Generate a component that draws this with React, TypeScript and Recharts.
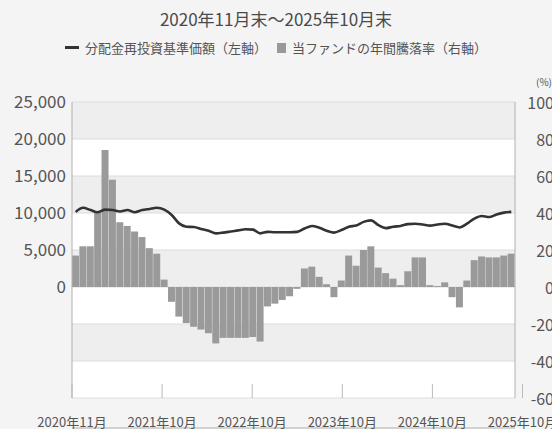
import { ComposedChart, Bar, Line, XAxis, YAxis, CartesianGrid } from "recharts"

const FONT = "'Noto Sans CJK JP', 'Noto Sans', sans-serif"

// month labels, Nov 2020 .. Oct 2025
const months: string[] = []
for (let i = 0; i < 60; i++) {
  const m = ((10 + i) % 12) + 1
  const y = 2020 + Math.floor((10 + i) / 12)
  months.push(`${y}年${m}月`)
}

// 分配金再投資基準価額 (left axis, yen)
const navValues = [
  10150, 10700, 10400, 10100, 10450, 10400, 10200, 10400, 10100, 10400,
  10550, 10700, 10450, 9730, 8600, 8150, 8100, 7850, 7600, 7250,
  7350, 7500, 7650, 7800, 7750, 7250, 7450, 7400, 7400, 7400,
  7450, 7900, 8250, 8000, 7600, 7350, 7700, 8150, 8300, 8800,
  9000, 8350, 7950, 8150, 8250, 8500, 8550, 8450, 8300, 8450,
  8550, 8300, 8050, 8550, 9250, 9600, 9450, 9800, 10050, 10150,
]

// 年間騰落率 (right axis, %)
const returnValues = [
  17, 22, 22, 41, 74, 58, 35, 33, 30, 27,
  21, 18, 4, -8, -16, -19.5, -21.5, -23, -25, -30.5,
  -27.5, -27.5, -27.5, -27.5, -27, -29.5, -10.5, -9, -7, -5,
  -1, 10, 11, 5.5, 1.5, -5.5, 3.5, 17, 11.5, 20,
  22, 10.5, 7.5, 4.5, 1, 8.5, 16, 16, 1, 0.5,
  2.5, -5.5, -11, 3.5, 14.5, 16.5, 16, 16, 17, 18,
]

const xTickPositions = [0, 12, 24, 36, 48, 60]
const xTickLabels = ["2020年11月", "2021年10月", "2022年10月", "2023年10月", "2024年10月", "2025年10月"]
const leftTicks = [0, 5000, 10000, 15000, 20000, 25000]
const rightTicks = [-60, -40, -20, 0, 20, 40, 60, 80, 100]

const data = months.map((month, i) => ({ month, nav: navValues[i], ret: returnValues[i] }))

const PLOT_BOTTOM = 398

const XTick = ({ x, payload }: any) => {
  const idx = xTickPositions.indexOf(payload.value)
  return (
    <g>
      <line x1={x} x2={x} y1={PLOT_BOTTOM} y2={PLOT_BOTTOM - 14} stroke="#bbb" />
      <text x={x} y={421} textAnchor="middle" dominantBaseline="central" fontSize={13} fill="#555" fontFamily={FONT}>
        {xTickLabels[idx]}
      </text>
    </g>
  )
}

const RightTick = ({ y, payload }: any) => (
  <text x={554} y={y} textAnchor="end" dominantBaseline="central" fontSize={16} fill="#555" fontFamily={FONT}>
    {payload.value}
  </text>
)

export default function App() {
  return (
    <div style={{ position: "absolute", left: 0, top: 0, width: 552, height: 429, background: "#f4f4f4", fontFamily: FONT, overflow: "hidden" }}>
      <div style={{ position: "absolute", top: 6, width: 552, textAlign: "center", fontSize: 17, color: "#4a4a4a" }}>
        2020年11月末～2025年10月末
      </div>
      <div style={{ position: "absolute", top: 38, width: 552, display: "flex", justifyContent: "center", alignItems: "center", fontSize: 13, color: "#555" }}>
        <span style={{ display: "inline-block", width: 14, height: 3, background: "#333", marginRight: 6 }} />
        <span>分配金再投資基準価額（左軸）</span>
        <span style={{ display: "inline-block", width: 9, height: 10, background: "#999", marginLeft: 10, marginRight: 6 }} />
        <span>当ファンドの年間騰落率（右軸）</span>
      </div>
      <div style={{ position: "absolute", top: 76, right: 0, fontSize: 10, lineHeight: "12px", color: "#555" }}>(%)</div>
      <div style={{ position: "absolute", left: 0, top: 0 }}>
        <ComposedChart width={552} height={429} data={data} margin={{ top: 102, right: 0, bottom: 0, left: 0 }} barCategoryGap={0} barGap={0}>
          <CartesianGrid yAxisId="right" vertical={false} stroke="#dcdcdc" horizontalFill={["#eeeeee", "#ffffff"]} />
          <XAxis xAxisId="cat" dataKey="month" hide />
          <XAxis
            xAxisId="num"
            type="number"
            domain={[0, 60]}
            allowDataOverflow
            ticks={xTickPositions}
            interval={0}
            height={31}
            tickLine={false}
            axisLine={{ stroke: "#b0b0b0" }}
            tick={<XTick />}
          />
          <YAxis
            yAxisId="left"
            width={72}
            domain={[-15000, 25000]}
            ticks={leftTicks}
            interval={0}
            tickSize={0}
            tickMargin={6}
            tickLine={false}
            axisLine={{ stroke: "#b0b0b0" }}
            tickFormatter={(v: number) => v.toLocaleString("en-US")}
            tick={{ fontSize: 17, fill: "#555", fontFamily: FONT }}
          />
          <YAxis
            yAxisId="right"
            orientation="right"
            width={37}
            domain={[-60, 100]}
            ticks={rightTicks}
            interval={0}
            tickLine={false}
            axisLine={{ stroke: "#b0b0b0" }}
            tick={<RightTick />}
          />
          <Bar xAxisId="cat" yAxisId="right" dataKey="ret" fill="#9a9a9a" isAnimationActive={false} />
          <Line xAxisId="cat" yAxisId="left" dataKey="nav" type="monotone" stroke="#333" strokeWidth={2.6} dot={false} isAnimationActive={false} />
        </ComposedChart>
      </div>
    </div>
  )
}
